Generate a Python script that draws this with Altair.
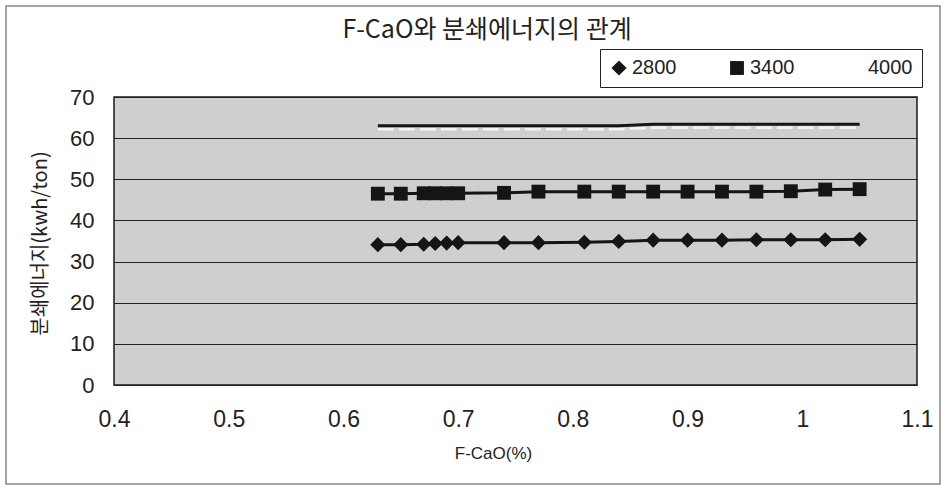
import altair as alt
import pandas as pd

# ---- data ----
f_cao = [0.63, 0.65, 0.67, 0.68, 0.69, 0.70, 0.74, 0.77, 0.81, 0.84,
         0.87, 0.90, 0.93, 0.96, 0.99, 1.02, 1.05]
e_2800 = [34.1, 34.1, 34.2, 34.4, 34.5, 34.6, 34.6, 34.6, 34.7, 34.9,
          35.2, 35.2, 35.2, 35.3, 35.3, 35.3, 35.4]
e_3400 = [46.5, 46.5, 46.6, 46.6, 46.6, 46.6, 46.7, 47.0, 47.0, 47.0,
          47.0, 47.0, 47.0, 47.0, 47.1, 47.5, 47.6]
e_4000 = [63.0, 63.0, 63.0, 63.0, 63.0, 63.0, 63.0, 63.0, 63.0, 63.0,
          63.4, 63.4, 63.4, 63.4, 63.4, 63.4, 63.4]
series_names = ["2800", "3400", "4000"]
x_ticks = [0.4, 0.5, 0.6, 0.7, 0.8, 0.9, 1.0, 1.1]
y_ticks = [0, 10, 20, 30, 40, 50, 60, 70]
chart_title = "F-CaO와 분쇄에너지의 관계"
x_title = "F-CaO(%)"
y_title = "분쇄에너지(kwh/ton)"

rows = []
for name, vals in zip(series_names, [e_2800, e_3400, e_4000]):
    for xv, yv in zip(f_cao, vals):
        rows.append({"series": name, "fcao": xv, "energy": yv})
df = pd.DataFrame(rows)

KR = "Noto Sans CJK KR"
NUM = "Liberation Sans"
INK = "#151515"
TXT = "#222"

x_enc = alt.X("fcao:Q", scale=alt.Scale(domain=[0.4, 1.1], nice=False, zero=False),
              axis=alt.Axis(values=x_ticks, format="~g", title=x_title, grid=False,
                            ticks=False, domain=False, labelPadding=23,
                            labelFlush=False,
                            labelFont=NUM, labelFontSize=23, labelColor=TXT,
                            titleFont=NUM, titleFontSize=17, titleFontWeight="normal",
                            titleColor=TXT, titleX=379, titleY=68,
                            titleBaseline="middle"))
y_enc = alt.Y("energy:Q", scale=alt.Scale(domain=[0, 70], nice=False),
              axis=alt.Axis(values=y_ticks, title=y_title, grid=True,
                            gridColor="#222", gridWidth=1, ticks=False,
                            domain=False, labelPadding=20, labelFlush=False,
                            labelFont=NUM, labelFontSize=22, labelColor=TXT,
                            titleFont=KR, titleFontSize=20, titleFontWeight="normal",
                            titleColor=TXT, titleX=-74, titleY=146,
                            titleBaseline="middle"))

base = alt.Chart(df)

lines = base.mark_line(strokeWidth=3, color=INK).encode(
    x=x_enc, y=y_enc, detail="series:N"
)

shade = base.transform_filter(alt.datum.series == "4000").mark_line(
    strokeWidth=2.5, color="#f4f4f4", strokeDash=[16, 5], yOffset=3.5
).encode(x="fcao:Q", y="energy:Q")

leg = alt.Legend(title=None, orient="none", legendX=486, legendY=-48,
                 direction="horizontal", fillColor="white", strokeColor="#222",
                 padding=9, columnPadding=50, labelFont=NUM, labelFontSize=20,
                 labelColor=TXT, symbolSize=120, labelOffset=3)

points = base.transform_filter(alt.datum.series != "4000").mark_point(
    filled=True, opacity=1
).encode(
    x="fcao:Q",
    y="energy:Q",
    shape=alt.Shape("series:N",
                    scale=alt.Scale(domain=series_names,
                                    range=["diamond", "square", "circle"]),
                    legend=leg),
    color=alt.Color("series:N",
                    scale=alt.Scale(domain=series_names,
                                    range=[INK, INK, "#ffffff"]),
                    legend=leg),
    size=alt.Size("series:N",
                  scale=alt.Scale(domain=series_names, range=[230, 155, 100]),
                  legend=None),
)

one = alt.Data(values=[{"t": chart_title}])

title_mark = alt.Chart(one).mark_text(
    font=KR, fontSize=25, color=TXT, align="center", baseline="middle"
).encode(x=alt.value(373), y=alt.value(-67), text="t:N")

frame = alt.Chart(one).mark_rect(fill=None, stroke="#888", strokeWidth=1.5).encode(
    x=alt.value(-108), x2=alt.value(826), y=alt.value(-91), y2=alt.value(387)
)

chart = alt.layer(frame, lines, shade, points, title_mark).properties(
    width=803, height=288,
    autosize=alt.AutoSizeParams(type="none"),
    padding={"left": 114, "top": 97, "right": 30, "bottom": 108},
    background="white",
).configure_view(
    fill="#cfcfcf", stroke="#1a1a1a", strokeWidth=1.5
)

chart.save("out.html", embed_options={"renderer": "svg", "actions": False})
